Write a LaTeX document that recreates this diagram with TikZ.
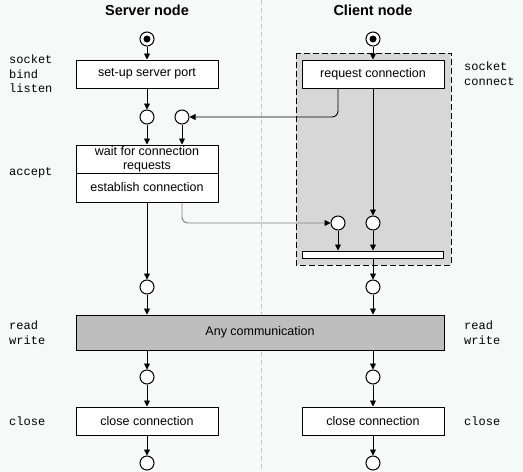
\documentclass[tikz,border=0pt]{standalone}
\usepackage{fontspec}
\setmainfont{Liberation Sans}
\setmonofont{Liberation Mono}
\usetikzlibrary{arrows.meta}
\definecolor{bgcol}{RGB}{245,249,247}
\definecolor{regioncol}{RGB}{214,215,214}
\definecolor{commcol}{RGB}{190,190,190}
\tikzset{
  box/.style={draw,fill=white,line width=1pt,minimum width=142pt,minimum height=28pt,inner sep=1pt,align=center,font=\fontsize{12.5}{14}\selectfont},
  state/.style={circle,draw,fill=white,line width=1pt,minimum size=14pt,inner sep=0pt},
  flow/.style={line width=0.9pt,-{Triangle[length=6pt,width=6pt,black]}},
  call/.style={font=\ttfamily\fontsize{12}{14.5}\selectfont,align=left,inner sep=0pt},
  title/.style={font=\bfseries\fontsize{14.5}{16}\selectfont}
}
\begin{document}
\begin{tikzpicture}[x=1pt,y=-1pt]
\fill[bgcol] (0,0) rectangle (523,472);
\useasboundingbox (0,0) rectangle (523,472);
\draw[gray!45,dash pattern=on 5pt off 3pt] (261,0) -- (261,472);
\draw[fill=regioncol,line width=1pt,dash pattern=on 6pt off 3pt] (296,53) rectangle (451,265);
% columns
\node[title] (ts) at (147,10) {Server node};
\node[title] (tc) at (373,10) {Client node};
\node[state] (s0) at (147,39) {};
\node[state] (c0) at (373,39) {};
\foreach \n in {s0,c0} \fill (\n) circle (3.5pt);
\node[box] (setup) at (147,74) {set-up server port};
\node[box] (req) at (373,74) {request connection};
\foreach \n/\x/\y in {s1/147/117, s2/182/117, c2/338/223, c1/373/223,
  s3/147/287, c3/373/287, s4/147/377, c4/373/377, s5/147/463, c5/373/463}
  \node[state] (\n) at (\x,\y) {};
\node[box] (wait) at (147,159) {wait for connection\\requests};
\node[box,minimum height=29pt] (est) at (147,187.5) {establish connection};
\node[box,minimum width=141pt,minimum height=7pt,inner sep=0pt] (bar) at (373,254.5) {};
\node[box,fill=commcol,minimum width=368pt,minimum height=35pt] (comm) at (260,332.5) {Any communication};
\node[box] (close1) at (147,421) {close connection};
\node[box] (close2) at (373,421) {close connection};
% calls
\node[call,anchor=west] (l1) at (9,74) {socket\\bind\\listen};
\node[call,anchor=west] (l2) at (9,173) {accept};
\node[call,anchor=west] (l3) at (9,332.5) {read\\write};
\node[call,anchor=west] (l4) at (9,421) {close};
\node[call,anchor=west] (r1) at (464,73.5) {socket\\connect};
\node[call,anchor=west] (r3) at (464,332.5) {read\\write};
\node[call,anchor=west] (r4) at (464,421) {close};
% flows
\draw[flow] (s0) -- (setup);
\draw[flow] (c0) -- (req);
\draw[flow] (setup) -- (s1);
\draw[flow] (s1) -- (wait);
\draw[flow] (s2) -- (s2 |- wait.north);
\draw[flow,rounded corners=6pt] (req.south -| c2) |- (s2);
\draw[flow] (req) -- (c1);
\draw[flow,gray,rounded corners=6pt] (est.south -| s2) |- (c2);
\draw[flow] (c2) -- (c2 |- bar.north);
\draw[flow] (c1) -- (bar);
\draw[flow] (bar) -- (c3);
\draw[flow] (est) -- (s3);
\draw[flow] (s3) -- (s3 |- comm.north);
\draw[flow] (c3) -- (c3 |- comm.north);
\draw[flow] (comm.south -| s4) -- (s4);
\draw[flow] (comm.south -| c4) -- (c4);
\draw[flow] (s4) -- (close1);
\draw[flow] (c4) -- (close2);
\draw[flow] (close1) -- (s5);
\draw[flow] (close2) -- (c5);
\end{tikzpicture}
\end{document}
